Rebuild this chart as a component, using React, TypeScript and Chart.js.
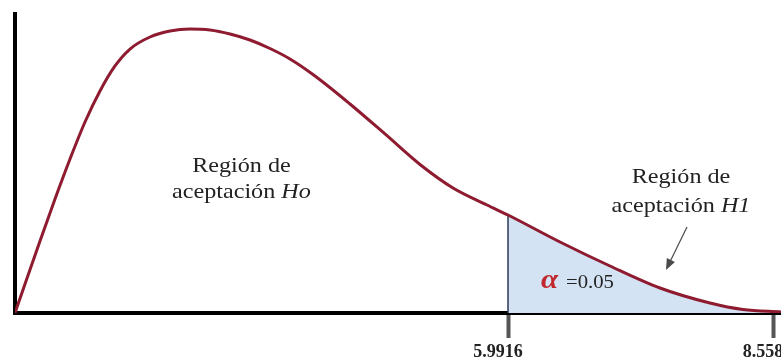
import React, { useEffect, useRef } from "react";
import { Chart, registerables } from "chart.js";

Chart.register(...registerables);

// Curve of the distribution (schematic units)
const CURVE_X = [
  1.2172, 1.3141, 1.4594, 1.6046, 1.7499, 1.8951, 2.0404, 2.1857, 2.3309, 2.5246, 2.7183,
  2.912, 3.1057, 3.2994, 3.4931, 3.6867, 3.8804, 4.1225, 4.4615, 4.8004, 5.1394, 5.459,
  5.7882, 5.9916, 6.4952, 6.9794, 7.4636, 7.9478, 8.2674, 8.6354,
];
const CURVE_Y = [
  0, 9.7, 24.08, 38.13, 51.51, 63.88, 74.25, 82.61, 88.29, 92.31, 94.31,
  94.98, 94.65, 93.31, 91.3, 88.46, 84.95, 79.26, 69.9, 59.87, 49.67, 41.81,
  36.12, 32.78, 23.75, 15.72, 8.36, 3.34, 1.17, 0.33,
];

const CRITICAL = 5.9916;
const X_MIN = 1.2172;
const X_MAX = 8.6354;
const Y_MAX = 100;
const TICK_VALUES = [5.9916, 8.558];
const TICK_LABELS = ["5.9916", "8.558"];
const ALPHA_LABEL = "=0.05";

// annotation anchors in data units
const H0_LINES = [
  [{ t: "Región de", italic: false }],
  [{ t: "aceptación ", italic: false }, { t: "Ho", italic: true }],
];
const H0_X = 3.41;
const H0_Y = [47.2, 38.5];
const H1_LINES = [
  [{ t: "Región de", italic: false }],
  [{ t: "aceptación ", italic: false }, { t: "H1", italic: true }],
];
const H1_X = 7.667;
const H1_Y = [43.4, 33.9];
const ALPHA_X = 6.311;
const ALPHA_TEXT_X = 6.554;
const ALPHA_Y = 8.36;
const ARROW_FROM = [7.725, 28.8];
const ARROW_TO = [7.522, 14.4];

const SERIF = '"Liberation Serif", "Times New Roman", serif';
const STRETCH = 1.15;

type Part = { t: string; italic: boolean };

function drawLine(ctx: CanvasRenderingContext2D, parts: Part[], cx: number, y: number, size: number) {
  let total = 0;
  const widths: number[] = [];
  for (const p of parts) {
    ctx.font = `${p.italic ? "italic " : ""}${size}px ${SERIF}`;
    const w = ctx.measureText(p.t).width;
    widths.push(w);
    total += w;
  }
  ctx.save();
  ctx.translate(cx - (total * STRETCH) / 2, y);
  ctx.scale(STRETCH, 1);
  let x = 0;
  parts.forEach((p, i) => {
    ctx.font = `${p.italic ? "italic " : ""}${size}px ${SERIF}`;
    ctx.fillText(p.t, x, 0);
    x += widths[i];
  });
  ctx.restore();
}

const annotations = {
  id: "annotations",
  afterDatasetsDraw(chart: any) {
    const { ctx, scales } = chart;
    const xs = scales.x;
    const ys = scales.y;
    ctx.save();
    ctx.fillStyle = "#222";
    ctx.textBaseline = "alphabetic";
    ctx.textAlign = "left";
    H0_LINES.forEach((line, i) =>
      drawLine(ctx, line as Part[], xs.getPixelForValue(H0_X), ys.getPixelForValue(H0_Y[i]), 21)
    );
    H1_LINES.forEach((line, i) =>
      drawLine(ctx, line as Part[], xs.getPixelForValue(H1_X), ys.getPixelForValue(H1_Y[i]), 21)
    );

    // alpha
    ctx.save();
    ctx.translate(xs.getPixelForValue(ALPHA_X), ys.getPixelForValue(ALPHA_Y));
    ctx.scale(STRETCH, 1);
    ctx.fillStyle = "#c0282e";
    ctx.font = `bold italic 27px ${SERIF}`;
    ctx.fillText("α", 0, 0);
    ctx.restore();
    ctx.save();
    ctx.translate(xs.getPixelForValue(ALPHA_TEXT_X), ys.getPixelForValue(ALPHA_Y));
    ctx.scale(STRETCH, 1);
    ctx.fillStyle = "#222";
    ctx.font = `18px ${SERIF}`;
    ctx.fillText(ALPHA_LABEL, 0, 0);
    ctx.restore();

    // arrow
    const x1 = xs.getPixelForValue(ARROW_FROM[0]);
    const y1 = ys.getPixelForValue(ARROW_FROM[1]);
    const x2 = xs.getPixelForValue(ARROW_TO[0]);
    const y2 = ys.getPixelForValue(ARROW_TO[1]);
    const ang = Math.atan2(y2 - y1, x2 - x1);
    const head = 11;
    ctx.strokeStyle = "#4a4a4a";
    ctx.fillStyle = "#4a4a4a";
    ctx.lineWidth = 1.2;
    ctx.beginPath();
    ctx.moveTo(x1, y1);
    ctx.lineTo(x2 - Math.cos(ang) * head * 0.8, y2 - Math.sin(ang) * head * 0.8);
    ctx.stroke();
    ctx.beginPath();
    ctx.moveTo(x2, y2);
    ctx.lineTo(
      x2 - Math.cos(ang) * head + Math.cos(ang + Math.PI / 2) * 4.5,
      y2 - Math.sin(ang) * head + Math.sin(ang + Math.PI / 2) * 4.5
    );
    ctx.lineTo(
      x2 - Math.cos(ang) * head - Math.cos(ang + Math.PI / 2) * 4.5,
      y2 - Math.sin(ang) * head - Math.sin(ang + Math.PI / 2) * 4.5
    );
    ctx.closePath();
    ctx.fill();
    ctx.restore();
  },
};

export default function App() {
  const ref = useRef<HTMLCanvasElement | null>(null);

  useEffect(() => {
    if (!ref.current) return;
    const curve = CURVE_X.map((x, i) => ({ x, y: CURVE_Y[i] }));
    const tail = curve.filter((p) => p.x >= CRITICAL);
    const critIdx = CURVE_X.indexOf(CRITICAL);
    const vline = [
      { x: CRITICAL, y: 0 },
      { x: CRITICAL, y: CURVE_Y[critIdx] },
    ];
    const allTicks = [X_MIN, ...TICK_VALUES, X_MAX];

    const chart = new Chart(ref.current, {
      type: "line",
      data: {
        datasets: [
          {
            data: curve,
            borderColor: "#8e1b30",
            borderWidth: 3,
            pointRadius: 0,
            cubicInterpolationMode: "monotone",
            fill: false,
            order: 1,
          },
          {
            data: vline,
            borderColor: "#2b3a55",
            borderWidth: 1.5,
            pointRadius: 0,
            fill: false,
            order: 2,
          },
          {
            data: tail,
            borderWidth: 0,
            borderColor: "rgba(0,0,0,0)",
            backgroundColor: "#d4e3f3",
            pointRadius: 0,
            cubicInterpolationMode: "monotone",
            fill: "origin",
            order: 3,
          },
        ],
      },
      options: {
        responsive: false,
        animation: false,
        events: [],
        layout: { padding: { left: 15, top: 14, right: 0, bottom: 0 } },
        plugins: { legend: { display: false }, tooltip: { enabled: false } },
        scales: {
          x: {
            type: "linear",
            min: X_MIN,
            max: X_MAX,
            afterBuildTicks: (scale: any) => {
              scale.ticks = allTicks.map((v) => ({ value: v }));
            },
            afterFit: (scale: any) => {
              scale.height = 45;
              scale.paddingLeft = 0;
              scale.paddingRight = 0;
            },
            ticks: {
              autoSkip: false,
              maxRotation: 0,
              padding: 5,
              labelOffset: -10,
              color: "#222",
              font: { family: "Liberation Serif", size: 18, weight: "bold", lineHeight: 1 },
              callback: (value: any) => {
                const i = TICK_VALUES.indexOf(value);
                return i >= 0 ? TICK_LABELS[i] : "";
              },
            },
            grid: {
              display: true,
              drawOnChartArea: false,
              drawTicks: true,
              tickLength: 25,
              tickWidth: 4,
              tickColor: (c: any) =>
                c.tick && TICK_VALUES.indexOf(c.tick.value) >= 0 ? "#555" : "rgba(0,0,0,0)",
            },
            border: { display: true, color: "#000", width: 4 },
          },
          y: {
            type: "linear",
            min: 0,
            max: Y_MAX,
            ticks: { display: false },
            grid: { display: true, drawOnChartArea: false, drawTicks: false },
            border: { display: true, color: "#000", width: 4 },
          },
        },
      },
      plugins: [annotations],
    } as any);
    return () => chart.destroy();
  }, []);

  return (
    <div style={{ position: "fixed", left: 0, top: 0, width: 781, height: 358, background: "#fff" }}>
      <canvas ref={ref} width={781} height={358} style={{ display: "block" }} />
    </div>
  );
}
